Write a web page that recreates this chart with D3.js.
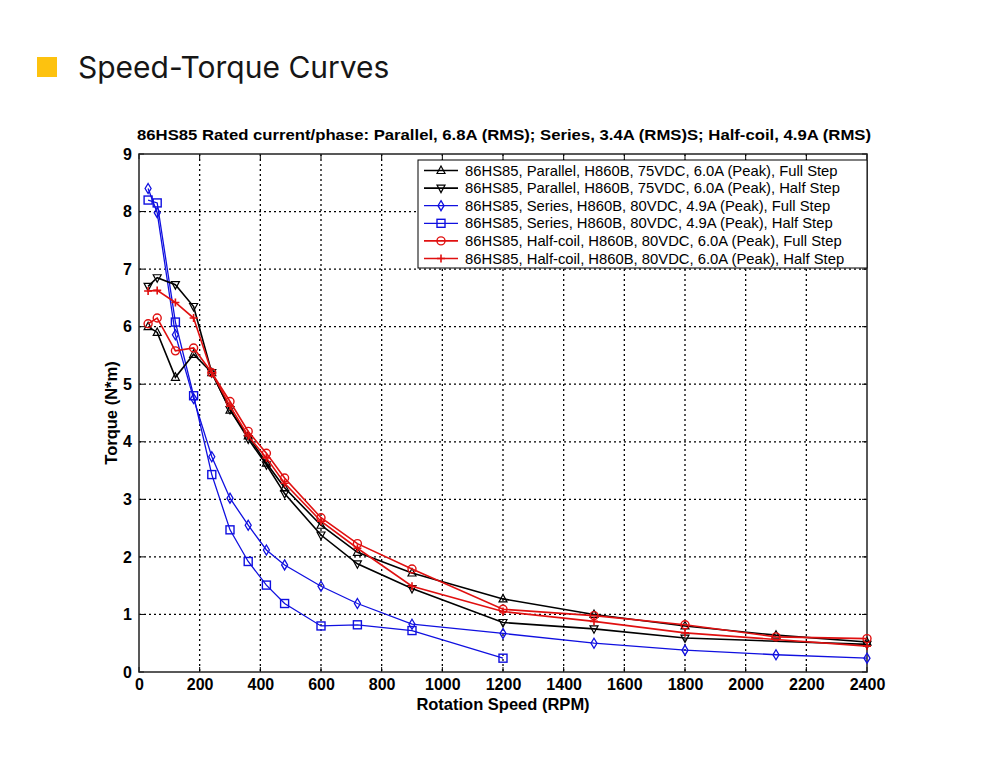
<!DOCTYPE html>
<html><head><meta charset="utf-8">
<script src="https://cdn.jsdelivr.net/npm/d3@7"></script>
<style>body{margin:0;background:#fff;} svg{display:block;}</style>
</head><body>
<svg id="c" width="1000" height="768"></svg>
<script>
const pageTitle = "Speed-Torque Curves";
const chartTitle = "86HS85 Rated current/phase: Parallel, 6.8A (RMS); Series, 3.4A (RMS)S; Half-coil, 4.9A (RMS)";
const xLabel = "Rotation Speed (RPM)";
const yLabel = "Torque (N*m)";
const xTicks = [0,200,400,600,800,1000,1200,1400,1600,1800,2000,2200,2400];
const yTicks = [0,1,2,3,4,5,6,7,8,9];

const seriesNames = [
  "86HS85, Parallel, H860B, 75VDC, 6.0A (Peak), Full Step",
  "86HS85, Parallel, H860B, 75VDC, 6.0A (Peak), Half Step",
  "86HS85, Series, H860B, 80VDC, 4.9A (Peak), Full Step",
  "86HS85, Series, H860B, 80VDC, 4.9A (Peak), Half Step",
  "86HS85, Half-coil, H860B, 80VDC, 6.0A (Peak), Full Step",
  "86HS85, Half-coil, H860B, 80VDC, 6.0A (Peak), Half Step"
];
const seriesColors = ["#000000","#000000","#1010e0","#1010e0","#e01010","#e01010"];
const seriesMarkers = ["triUp","triDown","diamond","square","circle","plus"];

const parallelFullRPM = [30,60,120,180,240,300,360,420,480,600,720,900,1200,1500,1800,2100,2400];
const parallelFullT   = [6.0,5.9,5.12,5.52,5.2,4.55,4.1,3.63,3.2,2.55,2.08,1.72,1.27,1.0,0.8,0.64,0.52];
const parallelHalfRPM = [30,60,120,180,240,300,360,420,480,600,720,900,1200,1500,1800,2400];
const parallelHalfT   = [6.7,6.85,6.73,6.35,5.2,4.56,4.05,3.6,3.1,2.38,1.88,1.45,0.86,0.75,0.59,0.48];
const seriesFullRPM   = [30,60,120,180,240,300,360,420,480,600,720,900,1200,1500,1800,2100,2400];
const seriesFullT     = [8.4,7.98,5.86,4.75,3.74,3.02,2.55,2.12,1.86,1.49,1.19,0.83,0.67,0.5,0.38,0.3,0.24];
const seriesHalfRPM   = [30,60,120,180,240,300,360,420,480,600,720,900,1200];
const seriesHalfT     = [8.2,8.15,6.08,4.8,3.43,2.47,1.92,1.51,1.19,0.8,0.82,0.72,0.24];
const halfcoilFullRPM = [30,60,120,180,240,300,360,420,480,600,720,900,1200,1500,1800,2100,2400];
const halfcoilFullT   = [6.05,6.15,5.58,5.63,5.2,4.7,4.18,3.8,3.37,2.68,2.23,1.79,1.09,0.98,0.82,0.61,0.58];
const halfcoilHalfRPM = [30,60,120,180,240,300,360,420,480,600,720,900,1200,1500,1800,2400];
const halfcoilHalfT   = [6.62,6.63,6.42,6.15,5.2,4.62,4.1,3.72,3.28,2.62,2.15,1.49,1.05,0.88,0.68,0.45];

const seriesRPM = [parallelFullRPM,parallelHalfRPM,seriesFullRPM,seriesHalfRPM,halfcoilFullRPM,halfcoilHalfRPM];
const seriesT = [parallelFullT,parallelHalfT,seriesFullT,seriesHalfT,halfcoilFullT,halfcoilHalfT];

const svg = d3.select("#c");
const m = {l:139, r:867, t:154, b:672};

// page header
svg.append("rect").attr("x",37).attr("y",57).attr("width",20).attr("height",20).attr("fill","#fdc20f");
svg.append("text").attr("x",78).attr("y",78).text(pageTitle)
  .attr("font-family","Inter, 'Open Sans', sans-serif").attr("font-size",30).attr("fill","#161616");

const x = d3.scaleLinear().domain([0,2400]).range([m.l,m.r]);
const y = d3.scaleLinear().domain([0,9]).range([m.b,m.t]);

const font = "'Liberation Sans', Arial, sans-serif";

// chart title
svg.append("text").attr("x",(m.l+m.r)/2+1).attr("y",140).attr("text-anchor","middle")
  .attr("font-family",font).attr("font-weight","bold").attr("font-size",15)
  .attr("textLength",734).attr("lengthAdjust","spacingAndGlyphs")
  .text(chartTitle);

// grid
const grid = svg.append("g").attr("stroke","#000").attr("stroke-width",1.3).attr("stroke-dasharray","2,3");
xTicks.slice(1,-1).forEach(v=>{
  grid.append("line").attr("x1",x(v)).attr("x2",x(v)).attr("y1",m.t).attr("y2",m.b);
});
yTicks.slice(1,-1).forEach(v=>{
  grid.append("line").attr("x1",m.l).attr("x2",m.r).attr("y1",y(v)).attr("y2",y(v));
});

// axes
const xAxis = d3.axisBottom(x).tickValues(xTicks).tickFormat(d3.format("d")).tickSize(0).tickPadding(7);
const yAxis = d3.axisLeft(y).tickValues(yTicks).tickFormat(d3.format("d")).tickSize(0).tickPadding(7);
const gx = svg.append("g").attr("transform",`translate(0,${m.b})`).call(xAxis);
const gy = svg.append("g").attr("transform",`translate(${m.l},0)`).call(yAxis);
[gx,gy].forEach(g=>{
  g.select(".domain").remove();
  g.selectAll("text").attr("font-family",font).attr("font-weight","bold").attr("font-size",16).attr("fill","#000");
});
// inward ticks
const tk = svg.append("g").attr("stroke","#000").attr("stroke-width",1);
xTicks.forEach(v=>{
  tk.append("line").attr("x1",x(v)).attr("x2",x(v)).attr("y1",m.b).attr("y2",m.b-5);
  tk.append("line").attr("x1",x(v)).attr("x2",x(v)).attr("y1",m.t).attr("y2",m.t+5);
});
yTicks.forEach(v=>{
  tk.append("line").attr("x1",m.l).attr("x2",m.l+5).attr("y1",y(v)).attr("y2",y(v));
  tk.append("line").attr("x1",m.r).attr("x2",m.r-5).attr("y1",y(v)).attr("y2",y(v));
});
svg.append("rect").attr("x",m.l).attr("y",m.t).attr("width",m.r-m.l).attr("height",m.b-m.t)
  .attr("fill","none").attr("stroke","#222").attr("stroke-width",1.5);

svg.append("text").attr("x",(m.l+m.r)/2).attr("y",710).attr("text-anchor","middle")
  .attr("font-family",font).attr("font-weight","bold").attr("font-size",16.5).text(xLabel);
svg.append("text").attr("transform",`translate(117,${(m.t+m.b)/2}) rotate(-90)`).attr("text-anchor","middle")
  .attr("font-family",font).attr("font-weight","bold").attr("font-size",16.5).text(yLabel);

function drawMarker(g, type, cx, cy, color){
  const s = 4;
  if(type==="triUp"){
    g.append("path").attr("d",`M${cx},${cy-s-0.5}L${cx+s},${cy+s-1}L${cx-s},${cy+s-1}Z`).attr("fill","none").attr("stroke",color).attr("stroke-width",1.2);
  } else if(type==="triDown"){
    g.append("path").attr("d",`M${cx},${cy+s+0.5}L${cx+s},${cy-s+1}L${cx-s},${cy-s+1}Z`).attr("fill","none").attr("stroke",color).attr("stroke-width",1.2);
  } else if(type==="diamond"){
    g.append("path").attr("d",`M${cx},${cy-s-1}L${cx+s-1},${cy}L${cx},${cy+s+1}L${cx-s+1},${cy}Z`).attr("fill","none").attr("stroke",color).attr("stroke-width",1.3);
  } else if(type==="square"){
    g.append("rect").attr("x",cx-s).attr("y",cy-s).attr("width",2*s).attr("height",2*s).attr("fill","none").attr("stroke",color).attr("stroke-width",1.4);
  } else if(type==="circle"){
    g.append("circle").attr("cx",cx).attr("cy",cy).attr("r",s).attr("fill","none").attr("stroke",color).attr("stroke-width",1.4);
  } else if(type==="plus"){
    g.append("path").attr("d",`M${cx-s},${cy}H${cx+s}M${cx},${cy-s}V${cy+s}`).attr("stroke",color).attr("stroke-width",1.6);
  }
}

const line = d3.line().x(d=>x(d[0])).y(d=>y(d[1]));
const lineWidths = [1.6,1.6,1.3,1.3,1.6,1.6];
const order = [2,3,0,1,5,4];
order.forEach(i=>{
  const data = seriesRPM[i].map((r,k)=>[r,seriesT[i][k]]);
  const g = svg.append("g");
  g.append("path").datum(data).attr("d",line).attr("fill","none")
    .attr("stroke",seriesColors[i]).attr("stroke-width",lineWidths[i]);
  data.forEach(d=>drawMarker(g,seriesMarkers[i],x(d[0]),y(d[1]),seriesColors[i]));
});

// legend
const lg = svg.append("g");
lg.append("rect").attr("x",418).attr("y",160).attr("width",449).attr("height",108)
  .attr("fill","#fff").attr("stroke","#000").attr("stroke-width",1);
seriesNames.forEach((n,i)=>{
  const cy = 170.5 + i*17.6;
  lg.append("line").attr("x1",424).attr("x2",458).attr("y1",cy).attr("y2",cy)
    .attr("stroke",seriesColors[i]).attr("stroke-width",lineWidths[i]);
  drawMarker(lg,seriesMarkers[i],441,cy,seriesColors[i]);
  lg.append("text").attr("x",465).attr("y",cy+5).text(n)
    .attr("font-family",font).attr("font-size",14.8).attr("fill","#000");
});
</script>
</body></html>
